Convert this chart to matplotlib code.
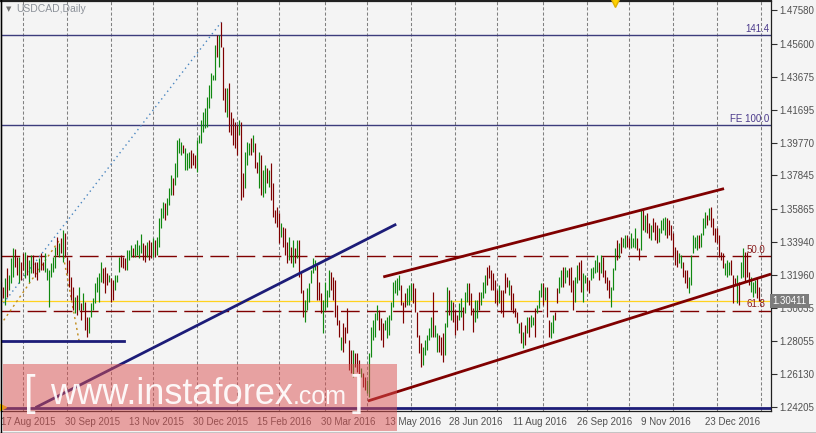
import matplotlib.pyplot as plt
import matplotlib.patches as patches
from matplotlib.lines import Line2D

# daily bars, USDCAD 17 Aug 2015 .. 31 Jan 2017 (bar index = trading day)
highs = [
    1.3155, 1.3126, 1.3179, 1.3238, 1.3197, 1.3297, 1.3356, 1.3350, 1.3303, 1.3303,
    1.3273, 1.3326, 1.3332, 1.3314, 1.3285, 1.3314, 1.3314, 1.3273, 1.3273, 1.3297,
    1.3326, 1.3273, 1.3326, 1.3238, 1.3226, 1.3267, 1.3303, 1.3362, 1.3421, 1.3385,
    1.3415, 1.3462, 1.3444, 1.3303, 1.3285, 1.3185, 1.3126, 1.3067, 1.3079, 1.3126,
    1.3031, 1.3090, 1.3037, 1.2949, 1.2949, 1.3031, 1.3061, 1.3149, 1.3185, 1.3208,
    1.3273, 1.3238, 1.3244, 1.3208, 1.3197, 1.3179, 1.3167, 1.3197, 1.3197, 1.3303,
    1.3314, 1.3303, 1.3297, 1.3344, 1.3344, 1.3374, 1.3356, 1.3379, 1.3403, 1.3374,
    1.3438, 1.3385, 1.3374, 1.3391, 1.3403, 1.3391, 1.3415, 1.3403, 1.3421, 1.3533,
    1.3592, 1.3627, 1.3621, 1.3651, 1.3710, 1.3787, 1.3769, 1.3857, 1.3993, 1.4005,
    1.3981, 1.3964, 1.3946, 1.3916, 1.3922, 1.3934, 1.3916, 1.3904, 1.3993, 1.4022,
    1.4111, 1.4158, 1.4182, 1.4247, 1.4317, 1.4388, 1.4377, 1.4554, 1.4612, 1.4612,
    1.4689, 1.4542, 1.4300, 1.4300, 1.4329, 1.4158, 1.4123, 1.4099, 1.4082, 1.4111,
    1.4099, 1.3798, 1.3922, 1.3981, 1.3975, 1.4005, 1.4022, 1.3975, 1.3863, 1.3922,
    1.3904, 1.3816, 1.3845, 1.3828, 1.3816, 1.3857, 1.3739, 1.3580, 1.3598, 1.3562,
    1.3503, 1.3480, 1.3474, 1.3391, 1.3421, 1.3362, 1.3403, 1.3356, 1.3403, 1.3403,
    1.3214, 1.3108, 1.3049, 1.3120, 1.3149, 1.3226, 1.3297, 1.3285, 1.3256, 1.3155,
    1.3090, 1.3049, 1.3155, 1.3108, 1.3226, 1.3214, 1.3185, 1.3167, 1.3020, 1.2931,
    1.2831, 1.2913, 1.2890, 1.3002, 1.2813, 1.2754, 1.2754, 1.2736, 1.2736, 1.2695,
    1.2648, 1.2618, 1.2595, 1.2577, 1.2736, 1.2890, 1.2931, 1.2972, 1.3020, 1.2990,
    1.2943, 1.2913, 1.2931, 1.2949, 1.2961, 1.3037, 1.3155, 1.3167, 1.3179, 1.3197,
    1.3138, 1.3037, 1.3090, 1.3120, 1.3138, 1.3149, 1.3149, 1.3120, 1.2978, 1.2842,
    1.2795, 1.2772, 1.2813, 1.2842, 1.2884, 1.2949, 1.3096, 1.2901, 1.2854, 1.2842,
    1.2831, 1.2854, 1.2913, 1.3126, 1.3108, 1.3049, 1.3037, 1.2990, 1.2961, 1.3031,
    1.3061, 1.3008, 1.3096, 1.3149, 1.3149, 1.3090, 1.3002, 1.3049, 1.3049, 1.3096,
    1.3096, 1.3155, 1.3197, 1.3244, 1.3256, 1.3226, 1.3208, 1.3167, 1.3108, 1.3138,
    1.3108, 1.3108, 1.3208, 1.3185, 1.3167, 1.3138, 1.3090, 1.3002, 1.2978, 1.2913,
    1.2919, 1.2860, 1.2901, 1.2949, 1.2949, 1.2961, 1.2949, 1.3002, 1.3020, 1.3108,
    1.3149, 1.3149, 1.3126, 1.3126, 1.2931, 1.2919, 1.2961, 1.2978, 1.3120, 1.3185,
    1.3226, 1.3244, 1.3244, 1.3226, 1.3238, 1.3244, 1.3167, 1.3185, 1.3256, 1.3273,
    1.3285, 1.3208, 1.3197, 1.3185, 1.3167, 1.3238, 1.3244, 1.3285, 1.3314, 1.3273,
    1.3314, 1.3303, 1.3226, 1.3185, 1.3167, 1.3126, 1.3238, 1.3356, 1.3403, 1.3385,
    1.3421, 1.3415, 1.3432, 1.3432, 1.3415, 1.3444, 1.3415, 1.3474, 1.3415, 1.3356,
    1.3580, 1.3580, 1.3551, 1.3562, 1.3503, 1.3491, 1.3533, 1.3509, 1.3491, 1.3474,
    1.3521, 1.3533, 1.3539, 1.3533, 1.3521, 1.3491, 1.3444, 1.3362, 1.3344, 1.3326,
    1.3314, 1.3273, 1.3226, 1.3226, 1.3185, 1.3314, 1.3432, 1.3421, 1.3432, 1.3432,
    1.3444, 1.3533, 1.3568, 1.3551, 1.3592, 1.3598, 1.3533, 1.3474, 1.3474, 1.3432,
    1.3332, 1.3326, 1.3267, 1.3285, 1.3273, 1.3285, 1.3197, 1.3179, 1.3197, 1.3155,
    1.3273, 1.3356, 1.3332, 1.3332, 1.3214, 1.3185, 1.3155, 1.3167, 1.3179, 1.3126,
]
lows = [
    1.3049, 1.3061, 1.3020, 1.3067, 1.3108, 1.3149, 1.3185, 1.3244, 1.3197, 1.3149,
    1.3167, 1.3226, 1.3179, 1.3197, 1.3155, 1.3208, 1.3208, 1.3185, 1.3167, 1.3214,
    1.3226, 1.3226, 1.3214, 1.3167, 1.3008, 1.3185, 1.3214, 1.3238, 1.3314, 1.3303,
    1.3326, 1.3273, 1.3303, 1.3208, 1.3126, 1.3049, 1.2990, 1.2972, 1.2961, 1.2990,
    1.2931, 1.2990, 1.2872, 1.2831, 1.2854, 1.2949, 1.2990, 1.3031, 1.3096, 1.3037,
    1.3155, 1.3149, 1.3090, 1.3138, 1.3155, 1.3037, 1.3049, 1.3108, 1.3155, 1.3214,
    1.3244, 1.3238, 1.3226, 1.3226, 1.3285, 1.3303, 1.3303, 1.3303, 1.3314, 1.3297,
    1.3326, 1.3285, 1.3273, 1.3303, 1.3285, 1.3297, 1.3303, 1.3303, 1.3314, 1.3362,
    1.3474, 1.3533, 1.3521, 1.3551, 1.3610, 1.3669, 1.3669, 1.3727, 1.3775, 1.3916,
    1.3904, 1.3916, 1.3816, 1.3816, 1.3828, 1.3828, 1.3846, 1.3828, 1.3804, 1.3975,
    1.3975, 1.4040, 1.4064, 1.4070, 1.4182, 1.4241, 1.4347, 1.4347, 1.4483, 1.4424,
    1.4542, 1.4229, 1.4158, 1.4129, 1.4040, 1.4022, 1.3964, 1.3946, 1.3904, 1.4022,
    1.3639, 1.3657, 1.3710, 1.3845, 1.3904, 1.3904, 1.3922, 1.3828, 1.3798, 1.3710,
    1.3669, 1.3657, 1.3680, 1.3739, 1.3716, 1.3639, 1.3539, 1.3503, 1.3480, 1.3385,
    1.3421, 1.3362, 1.3314, 1.3267, 1.3285, 1.3267, 1.3244, 1.3267, 1.3297, 1.3185,
    1.3090, 1.2949, 1.2919, 1.2990, 1.3037, 1.3149, 1.3208, 1.3226, 1.3049, 1.3049,
    1.2972, 1.2854, 1.2990, 1.3008, 1.3067, 1.3108, 1.3049, 1.2949, 1.2901, 1.2831,
    1.2754, 1.2742, 1.2795, 1.2854, 1.2636, 1.2618, 1.2595, 1.2654, 1.2624, 1.2595,
    1.2595, 1.2536, 1.2518, 1.2500, 1.2477, 1.2713, 1.2813, 1.2831, 1.2931, 1.2872,
    1.2813, 1.2772, 1.2872, 1.2825, 1.2842, 1.2931, 1.3008, 1.3090, 1.3079, 1.3108,
    1.3020, 1.2913, 1.3008, 1.3020, 1.3020, 1.3049, 1.3031, 1.2978, 1.2831, 1.2736,
    1.2654, 1.2665, 1.2724, 1.2754, 1.2813, 1.2831, 1.2831, 1.2831, 1.2742, 1.2742,
    1.2724, 1.2683, 1.2724, 1.2890, 1.2961, 1.2931, 1.2919, 1.2842, 1.2872, 1.2931,
    1.2949, 1.2872, 1.2972, 1.3037, 1.3020, 1.2961, 1.2860, 1.2919, 1.2943, 1.2990,
    1.3020, 1.3061, 1.3090, 1.3138, 1.3179, 1.3108, 1.3108, 1.3031, 1.3020, 1.3031,
    1.2972, 1.2949, 1.3090, 1.3126, 1.3079, 1.2990, 1.2972, 1.2949, 1.2913, 1.2854,
    1.2795, 1.2766, 1.2783, 1.2854, 1.2831, 1.2890, 1.2901, 1.2831, 1.2972, 1.3002,
    1.3067, 1.3020, 1.3049, 1.2949, 1.2831, 1.2825, 1.2854, 1.2931, 1.3031, 1.3090,
    1.3126, 1.3126, 1.3149, 1.3185, 1.3138, 1.3096, 1.2990, 1.3037, 1.3149, 1.3167,
    1.3096, 1.3037, 1.3149, 1.3108, 1.3090, 1.3167, 1.3179, 1.3208, 1.3214, 1.3167,
    1.3208, 1.3185, 1.3149, 1.3108, 1.3061, 1.3008, 1.3108, 1.3226, 1.3285, 1.3297,
    1.3326, 1.3362, 1.3356, 1.3362, 1.3356, 1.3356, 1.3362, 1.3356, 1.3344, 1.3285,
    1.3344, 1.3462, 1.3450, 1.3444, 1.3415, 1.3403, 1.3450, 1.3403, 1.3385, 1.3391,
    1.3444, 1.3462, 1.3432, 1.3415, 1.3432, 1.3403, 1.3303, 1.3256, 1.3244, 1.3267,
    1.3238, 1.3185, 1.3149, 1.3120, 1.3090, 1.3138, 1.3326, 1.3356, 1.3344, 1.3356,
    1.3362, 1.3432, 1.3474, 1.3491, 1.3521, 1.3480, 1.3432, 1.3391, 1.3385, 1.3303,
    1.3285, 1.3238, 1.3197, 1.3185, 1.3197, 1.3197, 1.3031, 1.3138, 1.3031, 1.3020,
    1.3179, 1.3185, 1.3155, 1.3185, 1.3138, 1.3096, 1.3067, 1.3090, 1.3061, 1.3041,
]
# G = bull bar, R = bear bar
moves = ("RRGRGGGRRG" "RRGRGGRRRG" "RRGGGGGGRG" "RGRRRRRGRG" "RGRRGGGGGG"
         "GRRRGRRGGG" "RRRGGGRGGG" "GRRGRRGRGG" "GGRGGGRGGG" "GRGGGRRRGG"
         "GGGGGGGGRG" "RRRGRRRRRG" "RRGGGRGRRG" "RGGRGRRRRR" "GRRRGRGRGR"
         "RRGGGGGGRR" "RGGGGRRRRR" "GRRRRRGRRR" "GRRGGGGGGR" "RRGGGGGGGG"
         "RRRGGGRRRR" "RGGGGGRGGR" "RRGGRGRRRG" "GRGGRRRGGR" "GGGRRRRRRG"
         "RRRRGRRRRG" "RGRGRGGRGG" "GRGRRGGRRG" "GRGGRRRGGR" "RGGRRGGGGR"
         "GRRRRGGGRG" "RGGRRGGGRR" "GRGRRGRRRG" "GGGRRRRRRG" "GRRRGGGGGR"
         "GGGRGRRRRR" "RRGGGRRRGR" "GGRRRGGGRR")

date_labels = ["17 Aug 2015", "30 Sep 2015", "13 Nov 2015", "30 Dec 2015",
               "15 Feb 2016", "30 Mar 2016", "13 May 2016", "28 Jun 2016",
               "11 Aug 2016", "26 Sep 2016", "9 Nov 2016", "23 Dec 2016"]
date_bars = [0, 32, 64, 96, 128, 160, 192, 224, 256, 288, 320, 352]
month_starts = [11, 33, 55, 76, 98, 118, 139, 162, 183, 205, 227, 248,
                271, 293, 314, 336, 358, 380]
price_ticks = [1.47580, 1.45600, 1.43675, 1.41695, 1.39770, 1.37845, 1.35865,
               1.33940, 1.31960, 1.30035, 1.28055, 1.26130, 1.24205]

last_price = 1.30411
fib_141 = 1.4612
fe_100 = 1.4080
fib_50 = 1.3307
fib_618 = 1.2985
bottom_level = 1.2413
support_oct = 1.2809
trend_x, trend_y = [17, 197.5], [1.2414, 1.3496]
upper_x, upper_y = [191, 361.5], [1.3185, 1.3706]
lower_x, lower_y = [183.3, 385], [1.2453, 1.3202]
fibo_x, fibo_y = [-0.5, 110], [1.3008, 1.4689]
swing1_x, swing1_y = [-0.5, 29], [1.2902, 1.3403]
swing2_x, swing2_y = [31, 39], [1.3303, 1.2796]

BG = "#f4f4f4"
UP = "#108810"
DOWN = "#7d0000"
NAVY = "#1c1c78"

fig = plt.figure(figsize=(8.16, 4.33), dpi=100, facecolor=BG)
ax = fig.add_axes([0.5 / 816, 22 / 433, 770.5 / 816, 410 / 433])
ax.set_facecolor(BG)
ax.set_xlim(-0.5, 385)
ax.set_ylim(1.2394, 1.4813)

for m in month_starts:
    ax.axvline(m, color="#808080", lw=0.75, ls=(0, (3, 2)), zorder=0.5)

idx = list(range(len(highs)))
cols = [UP if c == "G" else DOWN for c in moves]
ax.vlines(idx, lows, highs, colors=cols, lw=0.85, zorder=3)

# levels
ax.axhline(fib_141, color="#3c3c7c", lw=1.0, zorder=2)
ax.axhline(fe_100, color="#3c3c7c", lw=1.0, zorder=2)
ax.axhline(fib_50, color="#800000", lw=1.0, ls=(0, (13.5, 5.3)), zorder=2)
ax.axhline(fib_618, color="#800000", lw=1.0, ls=(0, (13.5, 5.3)), zorder=2)
ax.axhline(last_price, color="#ffd21f", lw=0.9, zorder=2)
ax.axhline(bottom_level, color=NAVY, lw=2.0, zorder=4)
ax.plot([-0.5, 61.5], [support_oct, support_oct], color=NAVY, lw=2.0, zorder=4)

ax.plot(trend_x, trend_y, color=NAVY, lw=2.0, zorder=4, solid_capstyle="butt")
ax.plot(upper_x, upper_y, color="#800000", lw=2.0, zorder=4, solid_capstyle="butt")
ax.plot(lower_x, lower_y, color="#800000", lw=2.0, zorder=4, solid_capstyle="butt")
ax.plot(fibo_x, fibo_y, color="#4a86c0", lw=1.0, ls=(0, (1, 2.5)), zorder=2)
ax.plot(swing1_x, swing1_y, color="#c08a1a", lw=1.0, ls=(0, (1.5, 2.5)), zorder=2)
ax.plot(swing2_x, swing2_y, color="#c08a1a", lw=1.0, ls=(0, (1.5, 2.5)), zorder=2)

ax.plot([306.8], [1.4806], marker="v", ms=7, color="#ffd200", mec="#e0b000",
        clip_on=False, zorder=6)
ax.plot([0.8], [1.2419], marker=">", ms=4, color="#ffd200", clip_on=False, zorder=6)

# level captions
ax.text(384, fib_141 + 0.0008, "141.4", ha="right", va="bottom", fontsize=7,
        color="#4b3a8c", family="Liberation Sans")
ax.text(384, fe_100 + 0.0008, "FE 100.0", ha="right", va="bottom", fontsize=7,
        color="#4b3a8c", family="Liberation Sans")
ax.text(382, fib_50 + 0.0008, "50.0", ha="right", va="bottom", fontsize=7,
        color="#8a1f1f", family="Liberation Sans")
ax.text(382, fib_618 + 0.0008, "61.8", ha="right", va="bottom", fontsize=7,
        color="#8a1f1f", family="Liberation Sans")

# axes
ax.yaxis.tick_right()
ax.set_yticks(price_ticks)
ax.set_yticklabels([f"{p:.5f}" for p in price_ticks], family="Liberation Sans")
ax.set_xticks(date_bars)
ax.set_xticklabels(date_labels, ha="left", family="Liberation Sans")
ax.tick_params(axis="y", direction="out", length=4, width=0.8, color="#303030",
               labelsize=7, labelcolor="#505050", pad=2)
ax.tick_params(axis="x", length=0, labelsize=7, labelcolor="#505050", pad=4)
for s in ax.spines.values():
    s.set_color("#202020")
    s.set_linewidth(0.9)
ax.spines["top"].set_linewidth(1.6)

ax.text(1.002, last_price, "1.30411", transform=ax.get_yaxis_transform(),
        ha="left", va="center", fontsize=7, color="white", family="Liberation Sans",
        zorder=10, clip_on=False,
        bbox=dict(boxstyle="square,pad=0.22", fc="#7c7c7c", ec="none"))

fig.text(6 / 816, 1 - 9 / 433, "\u25bc", fontsize=5, color="#707070",
         ha="left", va="center")
fig.text(16 / 816, 1 - 9 / 433, "USDCAD,Daily", fontsize=7.5, color="#8c9199",
         ha="left", va="center", family="Liberation Sans")

# watermark
fig.patches.append(patches.Rectangle((3 / 816, 2 / 433), 394 / 816, 67 / 433,
                                     transform=fig.transFigure, fc="#dc5050",
                                     alpha=0.5, ec="none", zorder=5))
wm = dict(color="white", alpha=0.92, family="Liberation Sans", va="baseline",
          ha="left", zorder=6)
fig.text(24 / 816, 1 - 405 / 433, "[", fontsize=30, **wm)
fig.text(50 / 816, 1 - 404 / 433, "www.instaforex", fontsize=26, **wm)
fig.text(293 / 816, 1 - 404 / 433, ".com", fontsize=18, **wm)
fig.text(352 / 816, 1 - 405 / 433, "]", fontsize=30, **wm)

# outer frame
fig.lines.append(Line2D([0, 1], [0.5 / 433, 0.5 / 433], transform=fig.transFigure,
                        color="black", lw=1))
fig.lines.append(Line2D([0.5 / 816, 0.5 / 816], [0, 1], transform=fig.transFigure,
                        color="black", lw=1))

fig.savefig("out.png", dpi=100, facecolor=BG)
